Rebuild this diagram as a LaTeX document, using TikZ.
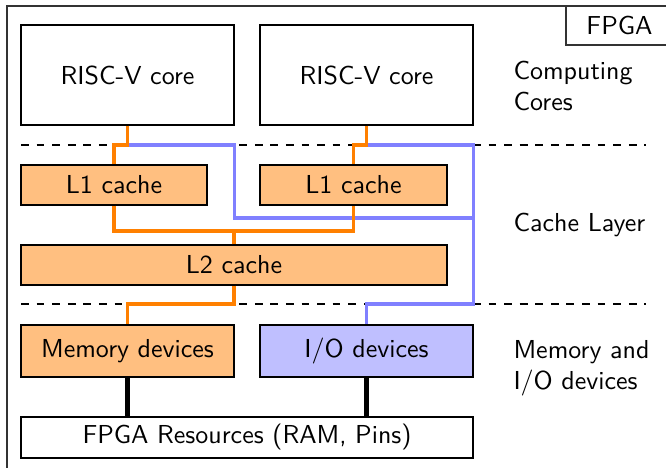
\documentclass[tikz,border=0pt]{standalone}
\begin{document}
\def\pu{0.385pt}
\begin{tikzpicture}[x=0.385pt,y=-0.385pt,
  every node/.style={font=\sffamily},
  box/.style={draw, inner sep=0pt},
  orbox/.style={box, fill=orange!50},
  blbox/.style={box, fill=blue!25},
  obus/.style={draw=orange, line width=1.5pt},
  bbus/.style={draw=blue!50, line width=1.5pt},
  wire/.style={draw=black, line width=1.6pt},
  layer/.style={dashed, line width=0.6pt},
  lbl/.style={anchor=west, align=left, inner sep=0pt}]
\useasboundingbox (0,0) rectangle (666,468);
\clip (0,0) rectangle (666,468);
% frame
\draw[line width=0.5pt, black!80] (7,520) -- (7,6) -- (720,6);
\draw[line width=0.5pt, black!80] (720,45) -- (566,45) -- (566,6);
\node (fpgalbl) at (619.5,25) {FPGA};
% layer separators
\coordinate (d1) at (0,145);
\coordinate (d2) at (0,304);
\coordinate (jb) at (0,218);
\coordinate (jo) at (0,231);
\draw[layer] (21,145) -- (646,145);
\draw[layer] (21,304) -- (646,304);
% boxes
\node[box, minimum width=213*\pu, minimum height=100*\pu] (c1) at (127.5,75) {RISC-V core};
\node[box, minimum width=213*\pu, minimum height=100*\pu] (c2) at (366.5,75) {RISC-V core};
\node[orbox, minimum width=186*\pu, minimum height=40*\pu] (l1a) at (114,185) {L1 cache};
\node[orbox, minimum width=187*\pu, minimum height=40*\pu] (l1b) at (353.5,185) {L1 cache};
\node[orbox, minimum width=426*\pu, minimum height=40*\pu] (l2) at (234,265) {L2 cache};
\node[orbox, minimum width=213*\pu, minimum height=52*\pu] (mem) at (127.5,351) {Memory devices};
\node[blbox, minimum width=213*\pu, minimum height=52*\pu] (io) at (366.5,351) {I/O devices};
\node[box, minimum width=452*\pu, minimum height=41*\pu] (res) at (247,437.5) {FPGA Resources (RAM, Pins)};
% layer labels
\node[lbl] (lcomp) at (513,86) {Computing\\Cores};
\node[lbl] (lcache) at (513,225) {Cache Layer};
\node[lbl] (lmem) at (513,368) {Memory and\\I/O devices};
% blue buses
\draw[bbus] (c1.south |- d1) -| (c1.east |- jb) -- (c2.east |- jb);
\draw[bbus] (c2.south |- d1) -| (c2.east |- d2) -| (io.north);
% orange buses
\draw[obus] (c1.south) -- (c1.south |- d1) -| (l1a.north);
\draw[obus] (c2.south) -- (c2.south |- d1) -| (l1b.north);
\draw[obus] (l1a.south) |- (l1b.south |- jo) -- (l1b.south);
\draw[obus] (l2.north) -- (l2.north |- jo);
\draw[obus] (l2.south) -- (l2.south |- d2) -| (mem.north);
% wires to resources
\draw[wire] (mem.south) -- (mem.south |- res.north);
\draw[wire] (io.south) -- (io.south |- res.north);
\end{tikzpicture}
\end{document}
